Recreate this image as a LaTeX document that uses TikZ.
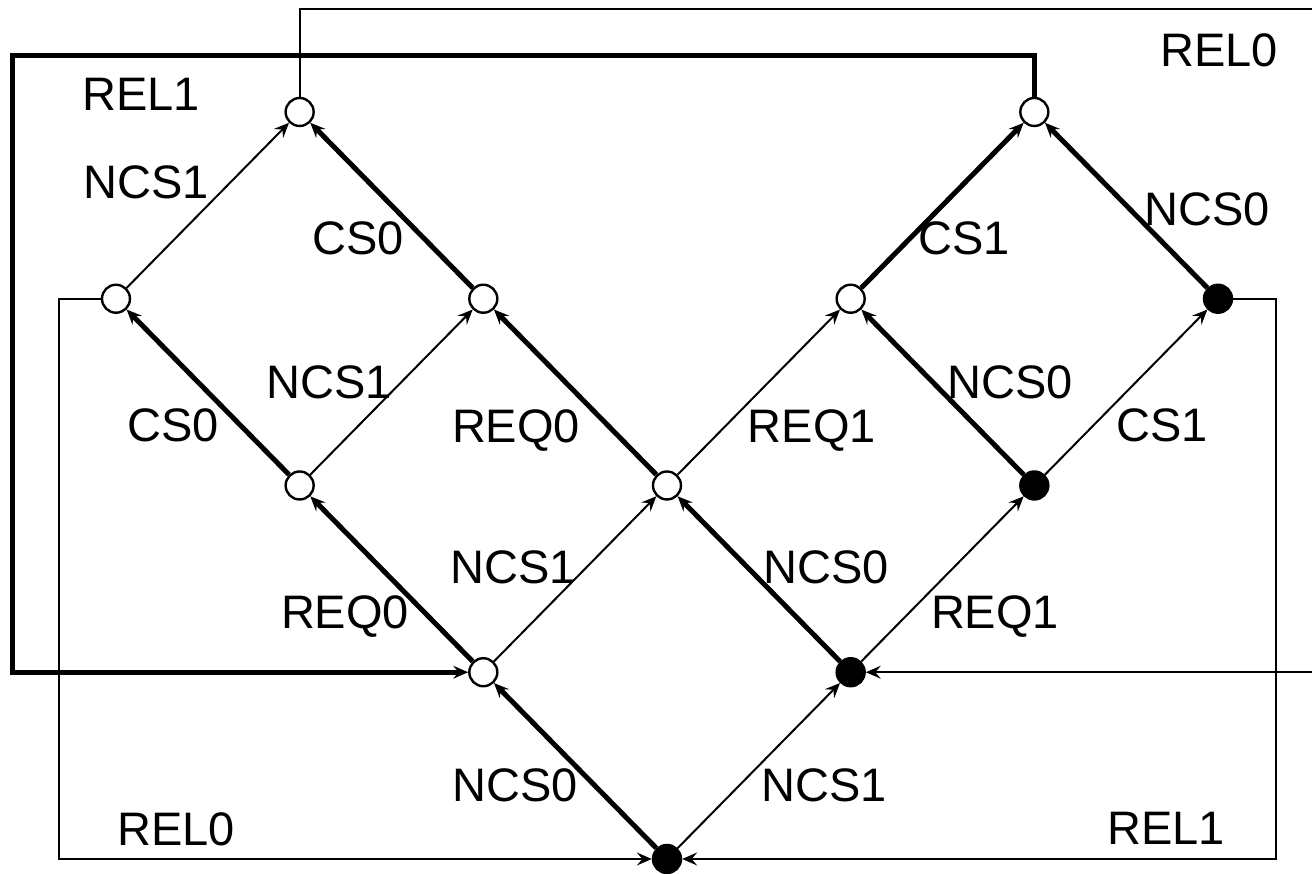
\documentclass[tikz,border=0pt]{standalone}
\usepackage{fontspec}
\setmainfont{Liberation Sans}
\usetikzlibrary{arrows.meta}

\begin{document}
\begin{tikzpicture}[x=91.835pt, y=93.375pt,
    strong/.style={line width=2.5pt, -{Stealth[length=7.5pt, width=6.5pt, inset=2.8pt, line width=0.6pt]}},
    weak/.style={line width=1pt, -{Stealth[length=7.5pt, width=6.5pt, inset=2.8pt, line width=0.6pt]}},
    st/.style={circle, draw=black, line width=1.2pt, minimum size=14pt, inner sep=0pt},
    lbl/.style={inner sep=0pt, text depth=0pt, font=\fontsize{23.5}{28}\selectfont}]
  \useasboundingbox (-3.6315,-0.0803) rectangle (3.5118,4.5997);
  % ---------------- states on the lattice ----------------
  \foreach \nm/\px/\py/\fc in {s0/0/0/black, s1/-1/1/white, s2/1/1/black,
      s3/-2/2/white, s4/0/2/white, s5/2/2/black,
      s6/-3/3/white, s7/-1/3/white, s8/1/3/white, s9/3/3/black,
      s10/-2/4/white, s11/2/4/white}
    \node[st, fill=\fc] (\nm) at (\px,\py) {};
  % ---------------- transitions ----------------
  \foreach \a/\b in {s0/s1, s1/s3, s2/s4, s3/s6, s4/s7, s5/s8, s7/s10, s8/s11, s9/s11}
    \draw[strong] (\a) -- (\b);
  \foreach \a/\b in {s0/s2, s1/s4, s2/s5, s3/s7, s4/s8, s5/s9, s6/s10}
    \draw[weak] (\a) -- (\b);
  % ---------------- release loops ----------------
  \coordinate (c1) at (-3.561,4.305);
  \coordinate (c2) at (3.6,4.552);
  \coordinate (c3) at (-3.310,0);
  \coordinate (c4) at (3.316,0);
  \draw[strong] (s11.north) |- (c1) |- (s1.west);
  \draw[weak] (s10.north) |- (c2) |- (s2.east);
  \draw[weak] (s6.west) -| (c3) -- (s0.west);
  \draw[weak] (s9.east) -| (c4) -- (s0.east);
  % ---------------- labels ----------------
  \foreach \txt/\lx/\ly [count=\k] in {REL1/-2.864/4.094, REL0/3.005/4.329,
      NCS1/-2.837/3.627, CS0/-1.682/3.327, CS1/1.617/3.327, NCS0/2.940/3.481,
      CS0/-2.690/2.324, NCS1/-1.840/2.554, REQ0/-0.822/2.319, REQ1/0.789/2.319,
      NCS0/1.867/2.554, CS1/2.695/2.324,
      REQ0/-1.753/1.323, NCS1/-0.838/1.564, NCS0/0.866/1.564, REQ1/1.786/1.323,
      NCS0/-0.828/0.396, NCS1/0.855/0.396, REL0/-2.673/0.161, REL1/2.717/0.166}
    \node[lbl] (lab\k) at (\lx,\ly) {\txt};
\end{tikzpicture}
\end{document}
